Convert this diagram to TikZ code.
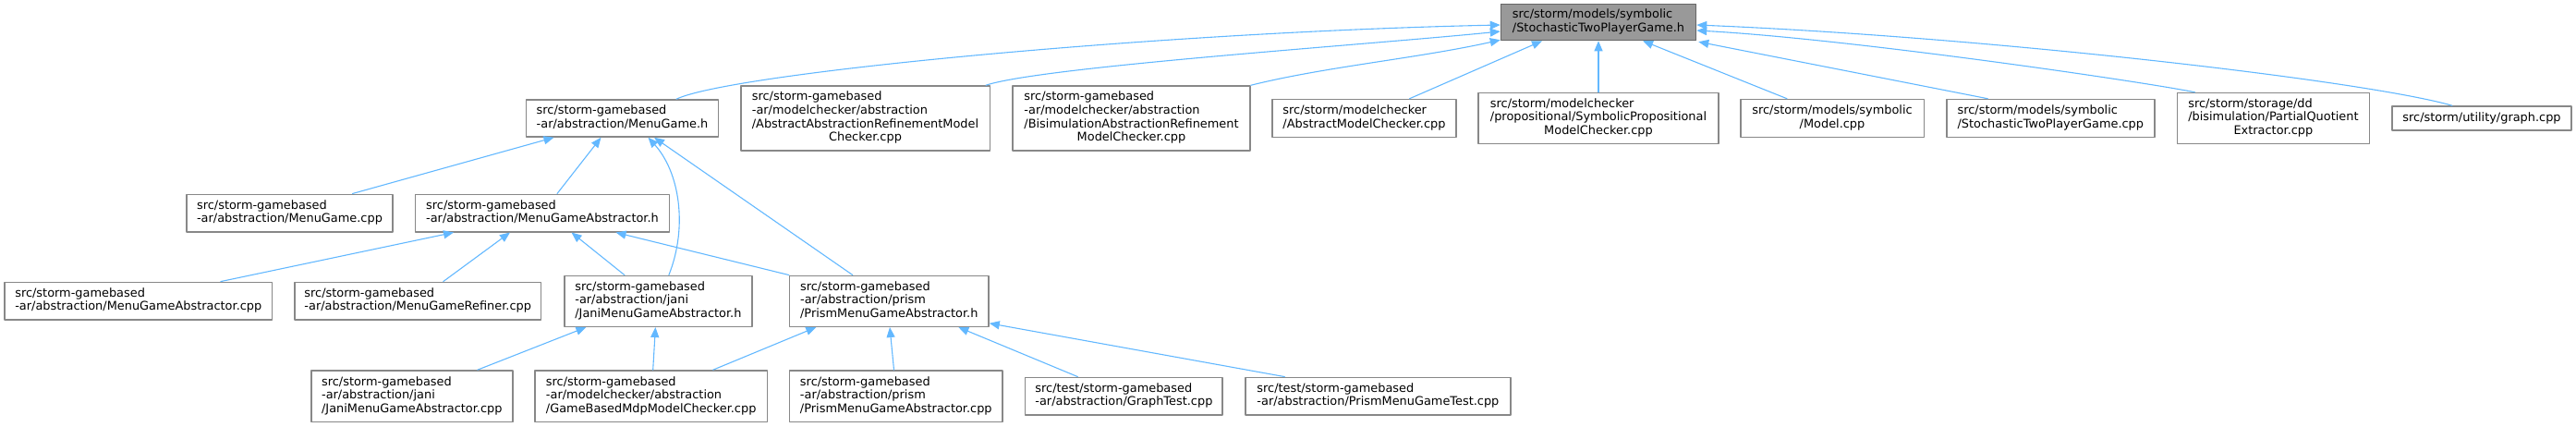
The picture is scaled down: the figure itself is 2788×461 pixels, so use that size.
\documentclass[tikz,border=0pt]{standalone}
\usepackage{fontspec}
\setmainfont{DejaVu Sans}
\usetikzlibrary{arrows.meta}
\definecolor{edgeblue}{HTML}{63B8FF}
\definecolor{boxgray}{HTML}{888888}
\definecolor{rootgray}{HTML}{999999}
\definecolor{rootline}{HTML}{666666}
% lines left aligned, last line centred
\newcommand\flines[2]{\begin{tabular}{@{}l@{}}#1\\\multicolumn{1}{@{}c@{}}{#2}\end{tabular}}
\tikzset{
  file/.style={draw=boxgray,fill=white,line width=1.5pt,inner sep=0pt,
    font=\fontsize{12.9}{14.7}\selectfont},
  incl/.style={draw=edgeblue,line width=1.1pt,-{Triangle[length=11pt,width=9pt]}}
}
\begin{document}
\begin{tikzpicture}[x=1pt,y=-1pt,line cap=round,line join=round]
  \useasboundingbox (0,0) rectangle (2788,461);
  % top
  \node[file,fill=rootgray,draw=rootline,minimum width=211pt,minimum height=39pt] (root) at (1730,24) {\flines{src/storm/models/symbolic}{/StochasticTwoPlayerGame.h}};
  % row 1
  \node[file,minimum width=208pt,minimum height=40pt] (mg) at (673.5,128) {\flines{src/storm-gamebased}{-ar/abstraction/MenuGame.h}};
  \node[file,minimum width=269.5pt,minimum height=70pt] (aarm) at (936.5,128) {\flines{src/storm-gamebased\\-ar/modelchecker/abstraction\\/AbstractAbstractionRefinementModel}{Checker.cpp}};
  \node[file,minimum width=257pt,minimum height=70pt] (bisim) at (1224.5,128) {\flines{src/storm-gamebased\\-ar/modelchecker/abstraction\\/BisimulationAbstractionRefinement}{ModelChecker.cpp}};
  \node[file,minimum width=199pt,minimum height=41pt] (amc) at (1476.5,128) {\flines{src/storm/modelchecker}{/AbstractModelChecker.cpp}};
  \node[file,minimum width=260pt,minimum height=55pt] (spmc) at (1730,128) {\flines{src/storm/modelchecker\\/propositional/SymbolicPropositional}{ModelChecker.cpp}};
  \node[file,minimum width=198.5pt,minimum height=41pt] (modelcpp) at (1983,128) {\flines{src/storm/models/symbolic}{/Model.cpp}};
  \node[file,minimum width=225pt,minimum height=41pt] (stpgcpp) at (2219.3,128) {\flines{src/storm/models/symbolic}{/StochasticTwoPlayerGame.cpp}};
  \node[file,minimum width=208pt,minimum height=55pt] (pqe) at (2460.4,128) {\flines{src/storm/storage/dd\\/bisimulation/PartialQuotient}{Extractor.cpp}};
  \node[file,minimum width=194pt,minimum height=26pt] (graph) at (2686,128) {src/storm/utility/graph.cpp};
  % row 2
  \node[file,minimum width=223pt,minimum height=40.5pt] (mgcpp) at (313.5,230.5) {\flines{src/storm-gamebased}{-ar/abstraction/MenuGame.cpp}};
  \node[file,minimum width=275pt,minimum height=40.5pt] (mga) at (587,230.5) {\flines{src/storm-gamebased}{-ar/abstraction/MenuGameAbstractor.h}};
  % row 3
  \node[file,minimum width=289.6pt,minimum height=40.7pt] (mgacpp) at (149.8,325.7) {\flines{src/storm-gamebased}{-ar/abstraction/MenuGameAbstractor.cpp}};
  \node[file,minimum width=266.6pt,minimum height=40.7pt] (mgr) at (452.2,325.7) {\flines{src/storm-gamebased}{-ar/abstraction/MenuGameRefiner.cpp}};
  \node[file,minimum width=202.8pt,minimum height=55pt] (jani) at (712.4,325.8) {\flines{src/storm-gamebased\\-ar/abstraction/jani}{/JaniMenuGameAbstractor.h}};
  \node[file,minimum width=215.4pt,minimum height=55pt] (prism) at (962.3,325.8) {\flines{src/storm-gamebased\\-ar/abstraction/prism}{/PrismMenuGameAbstractor.h}};
  % row 4
  \node[file,minimum width=218pt,minimum height=55.7pt] (janicpp) at (445.8,428.8) {\flines{src/storm-gamebased\\-ar/abstraction/jani}{/JaniMenuGameAbstractor.cpp}};
  \node[file,minimum width=251.4pt,minimum height=55.7pt] (gbmdp) at (704.7,428.8) {\flines{src/storm-gamebased\\-ar/modelchecker/abstraction}{/GameBasedMdpModelChecker.cpp}};
  \node[file,minimum width=230.4pt,minimum height=55.7pt] (prismcpp) at (969.8,428.8) {\flines{src/storm-gamebased\\-ar/abstraction/prism}{/PrismMenuGameAbstractor.cpp}};
  \node[file,minimum width=213.6pt,minimum height=40.7pt] (graphtest) at (1216.4,428.7) {\flines{src/test/storm-gamebased}{-ar/abstraction/GraphTest.cpp}};
  \node[file,minimum width=287pt,minimum height=40.7pt] (pmgtest) at (1491.4,428.7) {\flines{src/test/storm-gamebased}{-ar/abstraction/PrismMenuGameTest.cpp}};
  % includes of the game header
  \draw[incl] ([xshift=58.5pt]mg.north) .. controls +(58,-28) and +(-374,8) .. ([yshift=-3pt]root.west);
  \draw[incl] ([xshift=-5pt]aarm.north east) .. controls +(60,-20) and +(-150,15) .. ([yshift=-10pt]root.west);
  \draw[incl] (bisim.north east) .. controls +(80,-20) and +(-90,20) .. ([yshift=1pt]root.south west);
  \draw[incl] ([xshift=49pt]amc.north) -- ([xshift=-61pt]root.south);
  \draw[incl] (spmc.north) -- (root.south);
  \draw[incl] ([xshift=-49pt]modelcpp.north) -- ([xshift=48pt]root.south);
  \draw[incl] ([xshift=-68pt]stpgcpp.north) -- ([xshift=2pt,yshift=-1pt]root.south east);
  \draw[incl] ([xshift=-85pt]pqe.north) .. controls +(-60,-12) and +(165,9) .. ([yshift=-9pt]root.east);
  \draw[incl] ([xshift=-32pt]graph.north) .. controls +(-94,-27) and +(315,13) .. ([yshift=-3pt]root.east);
  % MenuGame.h
  \draw[incl] ([xshift=68pt]mgcpp.north) -- ([xshift=-74pt]mg.south);
  \draw[incl] ([xshift=16pt]mga.north) -- ([xshift=-23pt]mg.south);
  \draw[incl] ([xshift=11.5pt]jani.north) .. controls +(21,-53) and +(33.5,37) .. ([xshift=28pt]mg.south);
  \draw[incl] ([xshift=-39.5pt]prism.north) -- ([xshift=34.5pt]mg.south);
  % MenuGameAbstractor.h
  \draw[incl] ([xshift=89pt]mgacpp.north) -- ([xshift=-96pt]mga.south);
  \draw[incl] ([xshift=27.5pt]mgr.north) -- ([xshift=-35pt]mga.south);
  \draw[incl] ([xshift=-36.5pt]jani.north) -- ([xshift=31.5pt]mga.south);
  \draw[incl] (prism.north west) -- ([xshift=79.5pt]mga.south);
  % jani and prism headers
  \draw[incl] ([xshift=71pt]janicpp.north) -- ([xshift=-78pt]jani.south);
  \draw[incl] ([xshift=2pt]gbmdp.north) -- ([xshift=-3pt]jani.south);
  \draw[incl] ([xshift=67pt]gbmdp.north) -- ([xshift=-79pt]prism.south);
  \draw[incl] ([xshift=-2.3pt]prismcpp.north) -- ([xshift=0.7pt]prism.south);
  \draw[incl] ([xshift=-50pt]graphtest.north) -- ([xshift=75pt]prism.south);
  \draw[incl] ([xshift=-101pt]pmgtest.north) -- ([yshift=-24pt]prism.east);
\end{tikzpicture}
\end{document}
